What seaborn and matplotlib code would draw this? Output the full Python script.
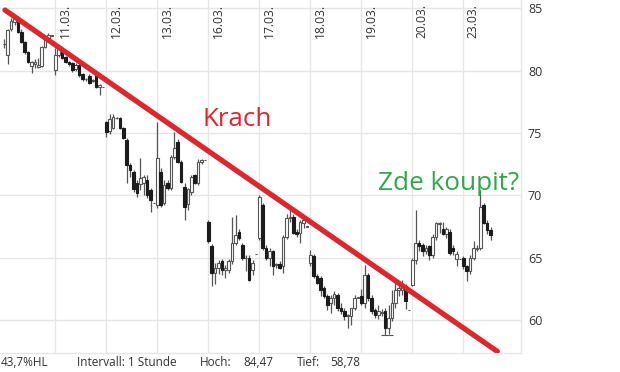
import numpy as np
import pandas as pd
import matplotlib
matplotlib.use("Agg")
import matplotlib.pyplot as plt
import seaborn as sns
from matplotlib.transforms import blended_transform_factory

# ---------------- data ----------------
day_labels = ["10.03.", "11.03.", "12.03.", "13.03.", "16.03.", "17.03.",
              "18.03.", "19.03.", "20.03.", "23.03."]
bars_per_day = [15, 15, 15, 15, 15, 15, 15, 15, 15, 9]
slots_per_day = 15

opens = [
    82.1, 81.25, 83.3, 83.9, 83.95, 83.1, 82.3, 81.5, 80.4, 80.5, 80.3, 80.4, 81.9, 82.6, 82.8,
    80.05, 81.25, 81.5, 81.1, 80.7, 80.6, 80.1, 80.45, 79.7, 79.3, 79.6, 79.2, 79.65, 78.7, 78.7,
    75.9, 75.2, 75.4, 76.2, 76.2, 75.4, 74.45, 72.45, 71.9, 71.0, 70.9, 71.0, 71.2, 70.4, 69.4,
    69.2, 71.9, 69.4, 71.0, 70.6, 73.1, 74.3, 72.7, 70.7, 69.3, 70.3, 71.6, 71.0, 72.7, 72.8,
    67.9, 65.9, 63.75, 64.2, 64.7, 64.0, 64.0, 64.7, 66.2, 67.1, 66.0, 64.95, 64.95, 64.0, 65.3,
    66.55, 69.2, 65.75, 64.95, 65.5, 64.4, 64.5, 64.3, 66.7, 68.2, 68.3, 67.1, 67.0, 67.8, 67.5,
    64.6, 65.1, 63.5, 63.35, 62.6, 61.9, 61.35, 61.75, 62.0, 60.95, 60.7, 60.35, 60.35, 60.95, 61.8,
    61.9, 61.35, 63.6, 61.75, 60.8, 60.4, 60.6, 60.7, 59.35, 60.15, 61.35, 62.4, 62.4, 62.7, 60.8,
    62.8, 64.8, 66.2, 66.0, 65.5, 65.9, 65.2, 66.7, 67.7, 67.3, 66.9, 67.1, 65.8, 64.9, 64.9,
    64.95, 64.3, 63.9, 64.95, 65.7, 65.75, 69.2, 67.75, 67.2,
]
highs = [
    82.5, 83.3, 84.2, 84.47, 84.4, 83.3, 82.4, 81.6, 80.8, 80.9, 81.0, 82.0, 82.8, 83.0, 82.8,
    81.8, 81.9, 81.7, 81.2, 80.8, 80.7, 80.6, 80.5, 79.8, 79.4, 79.7, 79.3, 79.7, 78.9, 78.7,
    76.0, 76.5, 76.5, 76.3, 76.3, 75.5, 74.6, 72.6, 72.0, 71.2, 73.0, 71.6, 71.6, 70.6, 69.4,
    75.9, 72.2, 71.2, 71.2, 73.2, 75.1, 74.5, 72.8, 71.0, 70.6, 71.6, 71.7, 72.9, 72.9, 72.8,
    68.0, 66.1, 64.6, 64.8, 64.9, 64.4, 64.9, 68.3, 68.4, 67.3, 66.2, 65.2, 65.2, 64.8, 65.3,
    70.0, 69.4, 66.0, 65.8, 65.6, 64.6, 64.7, 66.8, 68.5, 68.8, 68.5, 67.3, 68.0, 68.1, 67.5,
    65.6, 65.3, 63.7, 63.5, 62.7, 62.1, 62.0, 62.3, 62.2, 61.4, 61.0, 60.5, 61.0, 62.0, 61.8,
    62.5, 64.4, 63.8, 62.0, 61.0, 61.2, 60.9, 61.0, 61.2, 62.4, 63.0, 62.9, 63.2, 62.9, 60.8,
    65.0, 68.8, 66.4, 66.2, 66.0, 66.0, 66.9, 67.9, 67.9, 67.9, 67.5, 67.3, 66.0, 65.5, 64.9,
    65.1, 64.4, 65.2, 66.3, 66.0, 70.4, 69.4, 68.0, 67.5,
]
lows = [
    81.8, 80.5, 83.2, 83.7, 83.0, 82.2, 81.3, 80.6, 79.8, 80.2, 80.2, 80.3, 81.8, 82.4, 82.8,
    79.65, 81.1, 80.9, 80.6, 80.4, 79.9, 80.0, 79.5, 79.2, 79.2, 78.9, 79.1, 78.6, 78.05, 78.7,
    74.7, 74.9, 75.3, 76.1, 75.3, 74.5, 71.0, 71.5, 70.3, 69.9, 70.4, 70.0, 69.8, 68.7, 69.4,
    69.0, 69.1, 69.2, 70.4, 70.4, 72.9, 72.6, 71.0, 68.0, 68.8, 70.0, 70.9, 70.8, 72.5, 72.8,
    66.2, 62.7, 62.9, 63.7, 63.6, 63.4, 63.8, 64.5, 66.0, 66.4, 64.8, 63.9, 63.1, 63.6, 65.3,
    66.4, 65.6, 64.8, 64.3, 63.6, 64.2, 64.1, 63.8, 66.5, 67.9, 66.9, 66.7, 66.2, 67.4, 67.5,
    64.3, 63.4, 62.9, 61.9, 61.8, 60.8, 60.6, 61.2, 60.7, 60.5, 60.0, 59.4, 59.6, 60.8, 61.8,
    61.2, 61.0, 61.5, 60.5, 60.2, 60.1, 60.3, 58.78, 58.9, 59.9, 61.0, 61.9, 62.0, 60.9, 60.8,
    62.7, 64.5, 65.5, 65.1, 65.3, 64.8, 65.0, 66.4, 67.0, 66.8, 66.6, 65.2, 65.2, 64.3, 64.9,
    64.1, 63.1, 63.7, 64.8, 65.5, 65.6, 67.7, 66.9, 66.4,
]
closes = [
    82.1, 83.26, 84.0, 84.25, 83.1, 82.3, 81.5, 80.7, 80.7, 80.7, 80.45, 81.9, 82.6, 82.85, 82.8,
    81.25, 81.8, 81.0, 80.7, 80.55, 80.05, 80.45, 79.65, 79.3, 79.3, 79.0, 79.2, 78.7, 78.85, 78.7,
    75.1, 76.1, 76.3, 76.2, 75.4, 74.6, 72.45, 72.0, 70.5, 70.2, 71.4, 71.5, 70.0, 69.6, 69.4,
    73.0, 69.2, 70.8, 70.6, 73.1, 73.8, 72.7, 71.1, 69.1, 70.5, 71.5, 71.0, 72.7, 72.85, 72.8,
    66.3, 63.75, 64.2, 64.6, 64.0, 64.2, 64.7, 66.2, 66.8, 66.55, 64.95, 64.95, 63.2, 64.6, 65.3,
    69.9, 65.75, 64.95, 65.5, 64.3, 64.5, 64.2, 66.7, 68.2, 68.3, 67.0, 66.9, 67.9, 68.0, 67.5,
    65.2, 63.5, 63.0, 62.4, 61.9, 61.2, 61.75, 62.05, 60.95, 60.7, 60.3, 60.4, 60.95, 61.75, 61.8,
    61.35, 63.6, 61.8, 60.7, 60.4, 60.7, 60.6, 59.35, 60.15, 61.35, 62.4, 62.55, 62.7, 61.5, 60.8,
    64.8, 66.2, 65.9, 65.5, 65.8, 65.2, 66.7, 67.75, 67.8, 66.9, 67.3, 65.35, 65.5, 65.3, 64.9,
    64.3, 63.9, 64.95, 65.75, 65.8, 69.1, 67.75, 67.2, 66.8,
]
y_ticks = [60, 65, 70, 75, 80, 85]
trend_x = [0.2, 145.0]
trend_y = [84.86, 57.48]
footer = ["43,7%HL", "Intervall: 1 Stunde", "Hoch:", "84,47", "Tief:", "58,78"]

# ---------------- frame ----------------
pos = np.concatenate([d * slots_per_day + np.arange(n) for d, n in enumerate(bars_per_day)])
df = pd.DataFrame({"x": pos, "o": opens, "h": highs, "l": lows, "c": closes})
up = df[df.c >= df.o]
dn = df[df.c < df.o]

sns.set_theme(style="whitegrid")
plt.rcParams['font.family'] = ['Open Sans', 'DejaVu Sans']

W, H = 620, 372
fig = plt.figure(figsize=(W / 100, H / 100), dpi=100)
ax_h = 352.5
ax = fig.add_axes([0, 1 - ax_h / H, 521 / W, ax_h / H])

px_per_slot = 3.4
x0_px = 4.3
ax.set_xlim(-x0_px / px_per_slot, (521 - x0_px) / px_per_slot)
ax.set_ylim(85 - (ax_h - 8.3) / 12.47, 85 + 8.3 / 12.47)

# wicks
ax.vlines(df.x, df.l, df.h, color="#555555", lw=0.9, zorder=2)
# bodies
ax.bar(up.x, (up.c - up.o).clip(lower=0.02), bottom=up.o, width=0.72,
       facecolor="white", edgecolor="#555555", lw=0.8, zorder=3)
ax.bar(dn.x, dn.o - dn.c, bottom=dn.c, width=0.72,
       facecolor="#1c1c1c", edgecolor="#1c1c1c", lw=0.8, zorder=3)
# low marker
il = int(np.argmin(df.l.values))
ax.hlines(df.l.iloc[il], df.x.iloc[il] - 1.1, df.x.iloc[il] + 2.3,
          color="#555555", lw=0.8, zorder=3)

# trend line
sns.lineplot(x=trend_x, y=trend_y, ax=ax, color="#e0262d", lw=3.8,
             solid_capstyle="round", zorder=5)

# grid / axes
day_starts = [d * slots_per_day for d in range(len(day_labels))]
ax.set_xticks(day_starts[1:])
ax.set_xticklabels([])
ax.set_yticks(y_ticks)
ax.yaxis.tick_right()
ax.tick_params(axis="both", length=0)
ax.tick_params(axis="y", pad=5, labelsize=9, labelcolor="#333333")
ax.grid(True, color="#e6e6e6", lw=1)
ax.set_axisbelow(True)
for s in ["left", "top"]:
    ax.spines[s].set_visible(False)
for s in ["right", "bottom"]:
    ax.spines[s].set_color("#e6e6e6")
    ax.spines[s].set_linewidth(1)
ax.set_xlabel("")
ax.set_ylabel("")

trans = blended_transform_factory(ax.transData, ax.transAxes)
for ds, lab in zip(day_starts[1:], day_labels[1:]):
    ax.text(ds + 9.7 / px_per_slot, 1 - 4 / ax_h, lab, rotation=90, ha="center",
            va="top", fontsize=8.7, color="#333333", transform=trans)

fig.text(202.7 / W, 1 - 126 / H, "Krach", fontsize=18.6, color="#e0262d",
         ha="left", va="baseline")
fig.text(378 / W, 1 - 190.5 / H, "Zde koupit?", fontsize=18.8, color="#2ea84a",
         ha="left", va="baseline")

foot_x = [1, 77, 200, 243, 297, 330]
for fx, t in zip(foot_x, footer):
    fig.text(fx / W, 1 - 366 / H, t, fontsize=8.5, color="#333333",
             ha="left", va="baseline")

fig.savefig("out.png", dpi=100)
